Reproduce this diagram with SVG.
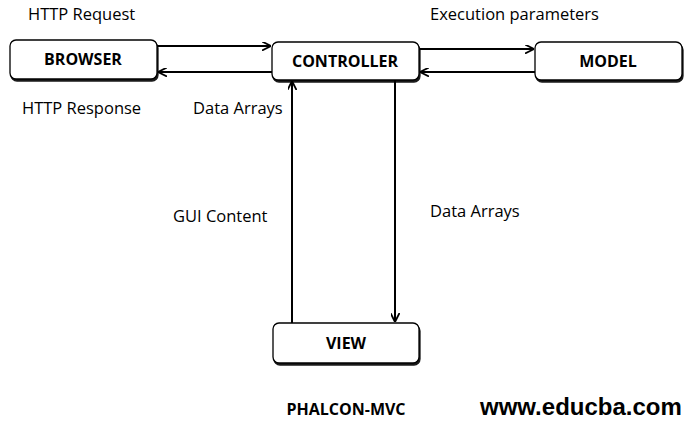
<svg xmlns="http://www.w3.org/2000/svg" width="689" height="444" viewBox="0 0 689 444">
<defs>
<marker id="ah" viewBox="0 0 10 10" refX="10" refY="5" markerWidth="9" markerHeight="9" markerUnits="userSpaceOnUse" orient="auto">
<path d="M0,0 L10,5 L0,10" fill="none" stroke="#000" stroke-width="2"/>
</marker>
<filter id="sh" x="-5%" y="-5%" width="112%" height="125%">
<feDropShadow dx="1" dy="2" stdDeviation="0.3" flood-color="#000" flood-opacity="0.9"/>
</filter>
</defs>
<style>
.box{fill:#fff;stroke:#000;stroke-width:1.3;filter:url(#sh)}
.bl{font-family:"Open Sans","Liberation Sans",sans-serif;font-weight:bold;font-size:16px;text-anchor:middle}
.lb{font-family:"Open Sans","Liberation Sans",sans-serif;font-size:16.5px}
.ln{stroke:#000;stroke-width:2;fill:none;marker-end:url(#ah)}
</style>
<rect width="689" height="444" fill="#fff"/>
<g id="connectors">
<line class="ln" x1="157" y1="46" x2="271" y2="46"/>
<line class="ln" x1="272" y1="72" x2="158" y2="72"/>
<line class="ln" x1="419" y1="49" x2="534" y2="49"/>
<line class="ln" x1="535" y1="72" x2="420" y2="72"/>
<line class="ln" x1="292" y1="323" x2="292" y2="81"/>
<line class="ln" x1="395" y1="80" x2="395" y2="322"/>
</g>
<g id="browser"><rect class="box" x="10" y="40" width="147" height="39" rx="6"/><text class="bl" x="83" y="65">BROWSER</text></g>
<g id="controller"><rect class="box" x="272" y="42" width="147" height="38" rx="6"/><text class="bl" x="345" y="67">CONTROLLER</text></g>
<g id="model"><rect class="box" x="535" y="42" width="147" height="38" rx="6"/><text class="bl" x="608" y="67">MODEL</text></g>
<g id="view"><rect class="box" x="273" y="323" width="146" height="40" rx="6"/><text class="bl" x="346" y="349">VIEW</text></g>
<g id="labels">
<text class="lb" x="28" y="20">HTTP Request</text>
<text class="lb" x="430" y="20">Execution parameters</text>
<text class="lb" x="22" y="114">HTTP Response</text>
<text class="lb" x="193" y="114">Data Arrays</text>
<text class="lb" x="173" y="222">GUI Content</text>
<text class="lb" x="430" y="217">Data Arrays</text>
<text class="bl" x="346" y="415" font-size="16.5">PHALCON-MVC</text>
<text font-family="'Liberation Sans',sans-serif" font-weight="bold" font-size="24" x="480" y="415">www.educba.com</text>
</g>
</svg>
